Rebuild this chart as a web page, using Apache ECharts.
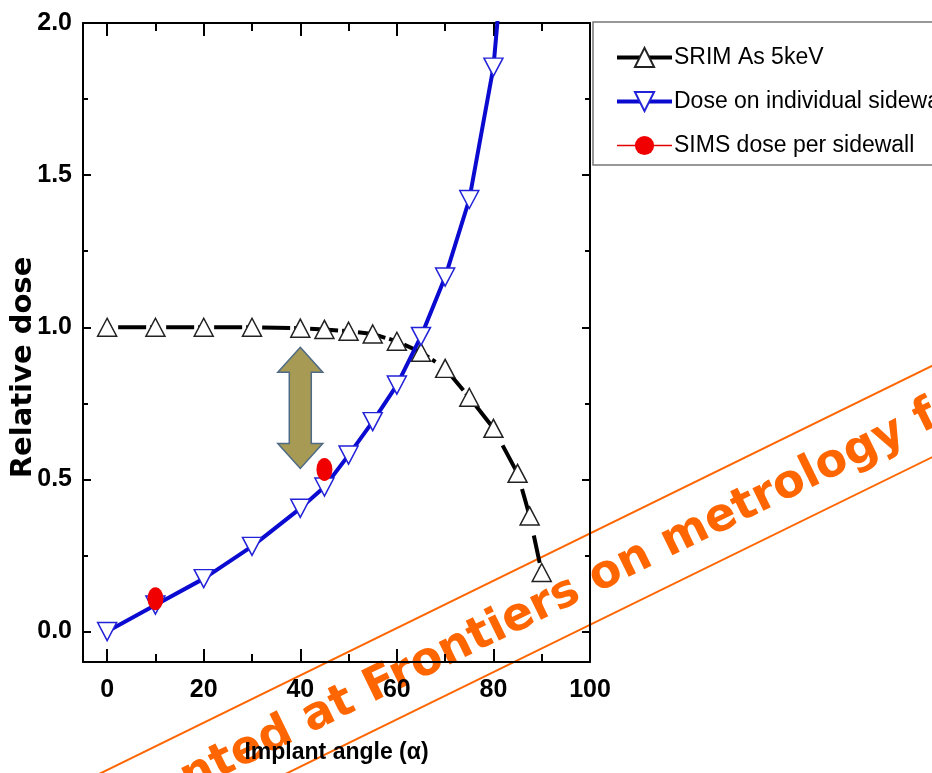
<!DOCTYPE html>
<html>
<head>
<meta charset="utf-8">
<script src="https://cdn.jsdelivr.net/npm/echarts@6/dist/echarts.min.js"></script>
<style>
html,body{margin:0;padding:0;background:#fff;}
#chart{width:932px;height:773px;}
</style>
</head>
<body>
<div id="chart"></div>
<script>
// ---- data ----
const srimAngles = [0, 10, 20, 30, 40, 45, 50, 55, 60, 65, 70, 75, 80, 85, 87.5, 90];
const srimDose   = [1.0, 1.0, 1.0, 1.0, 0.997, 0.993, 0.987, 0.978, 0.954, 0.918, 0.865, 0.77, 0.668, 0.52, 0.38, 0.194];
const sidewallAngles = [0, 10, 20, 30, 40, 45, 50, 55, 60, 65, 70, 75, 80, 85];
const sidewallDose   = [0.0, 0.087, 0.174, 0.28, 0.405, 0.475, 0.58, 0.69, 0.81, 0.97, 1.165, 1.42, 1.855, 2.75];
const simsAngles = [10, 45];
const simsDose   = [0.108, 0.533];
const xMajorTicks = [0, 20, 40, 60, 80, 100];
const xMinorTicks = [10, 30, 50, 70, 90];
const yMajorTicks = [0, 0.5, 1.0, 1.5, 2.0];
const yMinorTicks = [0.25, 0.75, 1.25, 1.75];
const seriesNames = ['SRIM As 5keV', 'Dose on individual sidewall', 'SIMS dose per sidewall'];
const xTitle = 'Implant angle (\u03b1)';
const yTitle = 'Relative dose';
const watermarkText = 'Presented at Frontiers on metrology for';
// annotation arrow (data coordinates)
const arrowX = 40, arrowTop = 0.934, arrowBottom = 0.536;

const X_MIN = -5, X_MAX = 100, Y_MIN = -0.1, Y_MAX = 2.0;
const sans = '"Liberation Sans", Arial, sans-serif';

function pair(xs, ys){ return xs.map((x,i)=>[x, ys[i]]); }

const chart = echarts.init(document.getElementById('chart'), null, {renderer:'canvas'});

const axisLineStyle = {color:'#000', width:2};
function xAx(pos, ticks, len, showLine, showLabel, extra){
  return Object.assign({
    type:'value', min:X_MIN, max:X_MAX, position:pos,
    axisLine:{show:showLine, onZero:false, lineStyle:axisLineStyle},
    axisTick:{show:true, inside:true, length:len, customValues:ticks, lineStyle:{color:'#000', width:2}},
    axisLabel:{show:showLabel, customValues:ticks, fontFamily:sans, fontWeight:'bold', fontSize:25, color:'#000', margin:16},
    splitLine:{show:false}
  }, extra||{});
}
function yAx(pos, ticks, len, showLine, showLabel, extra){
  return Object.assign({
    type:'value', min:Y_MIN, max:Y_MAX, position:pos,
    axisLine:{show:showLine, onZero:false, lineStyle:axisLineStyle},
    axisTick:{show:true, inside:true, length:len, customValues:ticks, lineStyle:{color:'#000', width:2}},
    axisLabel:{show:showLabel, customValues:ticks, formatter:v=>v.toFixed(1), fontFamily:sans, fontWeight:'bold', fontSize:25, color:'#000', margin:11},
    splitLine:{show:false}
  }, extra||{});
}

const option = {
  backgroundColor:'#fff',
  animation:false,
  grid:{left:83, right:342, top:23, bottom:111, containLabel:false, outerBoundsMode:'none'},
  legend:{
    orient:'vertical', left:593, top:22,
    padding:[24, 40, 8, 22],
    itemWidth:55, itemHeight:24, itemGap:21,
    borderColor:'#777', borderWidth:1.5, backgroundColor:'#fff',
    textStyle:{fontFamily:sans, fontSize:23, color:'#000', padding:[0,0,0,-3]},
    data:[
      {name:seriesNames[0], lineStyle:{width:4, type:'solid', color:'#000'}},
      {name:seriesNames[1], lineStyle:{width:4, type:'solid', color:'#0a0ad0'}},
      {name:seriesNames[2], lineStyle:{width:1.5, color:'#e00000', opacity:1}}
    ]
  },
  xAxis:[
    xAx('bottom', xMajorTicks, 13, true, true, {name:xTitle, nameLocation:'middle', nameGap:79,
      nameTextStyle:{fontFamily:sans, fontWeight:'bold', fontSize:23, color:'#000'}}),
    xAx('bottom', xMinorTicks, 8, false, false),
    xAx('top', xMajorTicks, 13, true, false),
    xAx('top', xMinorTicks, 8, false, false)
  ],
  yAxis:[
    yAx('left', yMajorTicks, 8, true, true, {name:yTitle, nameLocation:'middle', nameGap:45, nameMoveOverlap:false,
      nameTextStyle:{fontFamily:'"DejaVu Sans", sans-serif', fontWeight:'bold', fontSize:29, color:'#000', padding:[0,50,0,0]}}),
    yAx('left', yMinorTicks, 5, false, false),
    yAx('right', yMajorTicks, 8, true, false),
    yAx('right', yMinorTicks, 5, false, false)
  ],
  series:[
    {
      name:seriesNames[0], type:'line', xAxisIndex:0, yAxisIndex:0,
      data:pair(srimAngles, srimDose),
      symbol:'triangle', symbolSize:[19,18], showAllSymbol:true,
      lineStyle:{color:'#000', width:4, type:[28,4,4,12], dashOffset:37},
      itemStyle:{color:'#fff', borderColor:'#222', borderWidth:1.5},
      z:2
    },
    {
      name:seriesNames[1], type:'line', xAxisIndex:0, yAxisIndex:0,
      data:pair(sidewallAngles, sidewallDose), clip:true,
      symbol:'triangle', symbolRotate:180, symbolSize:[19,18], showAllSymbol:true,
      lineStyle:{color:'#0a0ad0', width:4},
      itemStyle:{color:'#fff', borderColor:'#2222d8', borderWidth:1.5},
      z:3
    },
    {
      name:seriesNames[2], type:'line', xAxisIndex:0, yAxisIndex:0,
      data:pair(simsAngles, simsDose),
      symbol:'circle', symbolSize:[16,23], showAllSymbol:true,
      lineStyle:{color:'#e00000', width:1.5, opacity:0},
      itemStyle:{color:'#f00000', borderColor:'#e00000', borderWidth:0},
      z:4
    }
  ]
};
chart.setOption(option);

// annotation arrow and watermark (decorations)
const pTop = chart.convertToPixel({xAxisIndex:0, yAxisIndex:0}, [arrowX, arrowTop]);
const pBot = chart.convertToPixel({xAxisIndex:0, yAxisIndex:0}, [arrowX, arrowBottom]);
const cx = pTop[0], headH = 25, headW = 22.5, shaftW = 11;
const arrowPts = [
  [cx, pTop[1]], [cx+headW, pTop[1]+headH], [cx+shaftW, pTop[1]+headH],
  [cx+shaftW, pBot[1]-headH], [cx+headW, pBot[1]-headH], [cx, pBot[1]],
  [cx-headW, pBot[1]-headH], [cx-shaftW, pBot[1]-headH], [cx-shaftW, pTop[1]+headH],
  [cx-headW, pTop[1]+headH]
];
const wmAngle = 26.1 * Math.PI / 180;
chart.setOption({
  graphic:[
    {type:'polygon', shape:{points:arrowPts}, style:{fill:'#a69a54', stroke:'#4e6a86', lineWidth:1.5}, z:10},
    {type:'group', x:438, y:653.6, rotation:wmAngle, z:100, children:[
      {type:'line', shape:{x1:-1300, y1:-41, x2:1300, y2:-41}, style:{stroke:'#ff6600', lineWidth:2}},
      {type:'line', shape:{x1:-1300, y1:41, x2:1300, y2:41}, style:{stroke:'#ff6600', lineWidth:2}},
      {type:'text', x:-431, y:3, style:{text:watermarkText, font:'bold 46px "DejaVu Sans", sans-serif', fill:'#ff6600', textAlign:'left', textVerticalAlign:'middle'}}
    ]}
  ]
});
</script>
</body>
</html>
